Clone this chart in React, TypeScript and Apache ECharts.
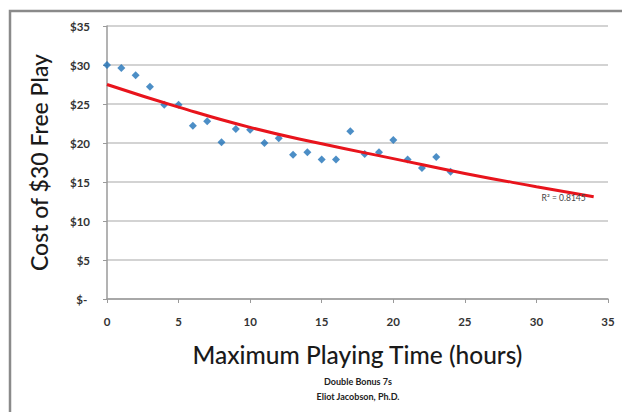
import React, { useEffect, useRef } from "react";
import * as echarts from "echarts";

const hours = [0, 1, 2, 3, 4, 5, 6, 7, 8, 9, 10, 11, 12, 13, 14, 15, 16, 17, 18, 19, 20, 21, 22, 23, 24];
const cost = [30.0, 29.6, 28.7, 27.2, 24.9, 24.9, 22.2, 22.8, 20.1, 21.8, 21.7, 20.0, 20.6, 18.5, 18.8, 17.9, 17.9, 21.5, 18.6, 18.8, 20.4, 17.9, 16.8, 18.2, 16.3];
const trendX = [0, 5, 10, 15, 20, 25, 30, 34];
const trendY = [27.5, 24.6, 22.0, 19.9, 18.0, 16.1, 14.4, 13.1];
const rSquared = "R² = 0.8145";
const xTitle = "Maximum Playing Time (hours)";
const yTitle = "Cost of $30 Free Play";
const subtitle1 = "Double Bonus 7s";
const subtitle2 = "Eliot Jacobson, Ph.D.";

export default function App() {
  const ref = useRef<HTMLDivElement>(null);
  useEffect(() => {
    if (!ref.current) return;
    const chart = echarts.init(ref.current, null, { renderer: "svg" });
    const font = "Lato, 'Open Sans', sans-serif";
    const trendData: any[] = trendX.map((x, i) => [x, trendY[i]]);
    const last = trendData.length - 1;
    trendData[last] = {
      value: trendData[last],
      label: {
        show: true,
        formatter: rSquared,
        position: "left",
        distance: 8,
        offset: [0, 1],
        fontSize: 8.5,
        color: "#444",
        fontFamily: font,
      },
    };
    chart.setOption({
      animation: false,
      backgroundColor: "#ffffff",
      grid: { left: 107, right: 14, top: 26, bottom: 113, containLabel: false },
      xAxis: {
        type: "value",
        min: 0,
        max: 35,
        interval: 5,
        name: xTitle,
        nameLocation: "middle",
        nameGap: 43,
        nameTextStyle: { fontSize: 24.5, color: "#1a1a1a", fontFamily: font, fontWeight: 500 },
        axisLine: { show: true, lineStyle: { color: "#9a9a9a", width: 1.5 } },
        axisTick: { show: true, length: 4, lineStyle: { color: "#9a9a9a" } },
        axisLabel: { margin: 16, fontSize: 11.5, fontWeight: "bold", color: "#333", fontFamily: font },
        splitLine: { show: false },
      },
      yAxis: {
        type: "value",
        min: 0,
        max: 35,
        interval: 5,
        name: yTitle,
        nameLocation: "middle",
        nameGap: 57,
        nameTextStyle: { fontSize: 23, color: "#1a1a1a", fontFamily: font, fontWeight: 500 },
        axisLine: { show: true, lineStyle: { color: "#9a9a9a", width: 1.5 } },
        axisTick: { show: true, length: 4, lineStyle: { color: "#9a9a9a" } },
        axisLabel: {
          margin: 17,
          fontSize: 11.5,
          fontWeight: "bold",
          color: "#333",
          fontFamily: font,
          formatter: (v: number) => (v === 0 ? "$- " : "$" + v),
        },
        splitLine: { show: true, lineStyle: { color: "#c4c4c4", width: 1.5 } },
      },
      graphic: [
        {
          type: "rect",
          shape: { x: 10, y: 11, width: 640, height: 420 },
          style: { fill: "none", stroke: "#8a8a8a", lineWidth: 2.5 },
          silent: true,
          z: -1,
        },
        {
          type: "text",
          x: 358,
          y: 381,
          style: { text: subtitle1, textAlign: "center", textVerticalAlign: "middle", fontSize: 9, fontWeight: "bold", fill: "#222", fontFamily: font },
        },
        {
          type: "text",
          x: 358,
          y: 396,
          style: { text: subtitle2, textAlign: "center", textVerticalAlign: "middle", fontSize: 9, fontWeight: "bold", fill: "#222", fontFamily: font },
        },
      ],
      series: [
        {
          type: "scatter",
          data: hours.map((h, i) => [h, cost[i]]),
          symbol: "diamond",
          symbolSize: 8,
          itemStyle: { color: "#1f72b8" },
          z: 2,
        },
        {
          type: "line",
          data: trendData,
          smooth: true,
          showSymbol: true,
          symbol: "circle",
          symbolSize: 0,
          lineStyle: { color: "#e8141c", width: 3 },
          itemStyle: { color: "#e8141c" },
          z: 3,
        },
      ],
    });
    return () => chart.dispose();
  }, []);
  return <div ref={ref} style={{ position: "fixed", left: 0, top: 0, width: 622, height: 412 }} />;
}
